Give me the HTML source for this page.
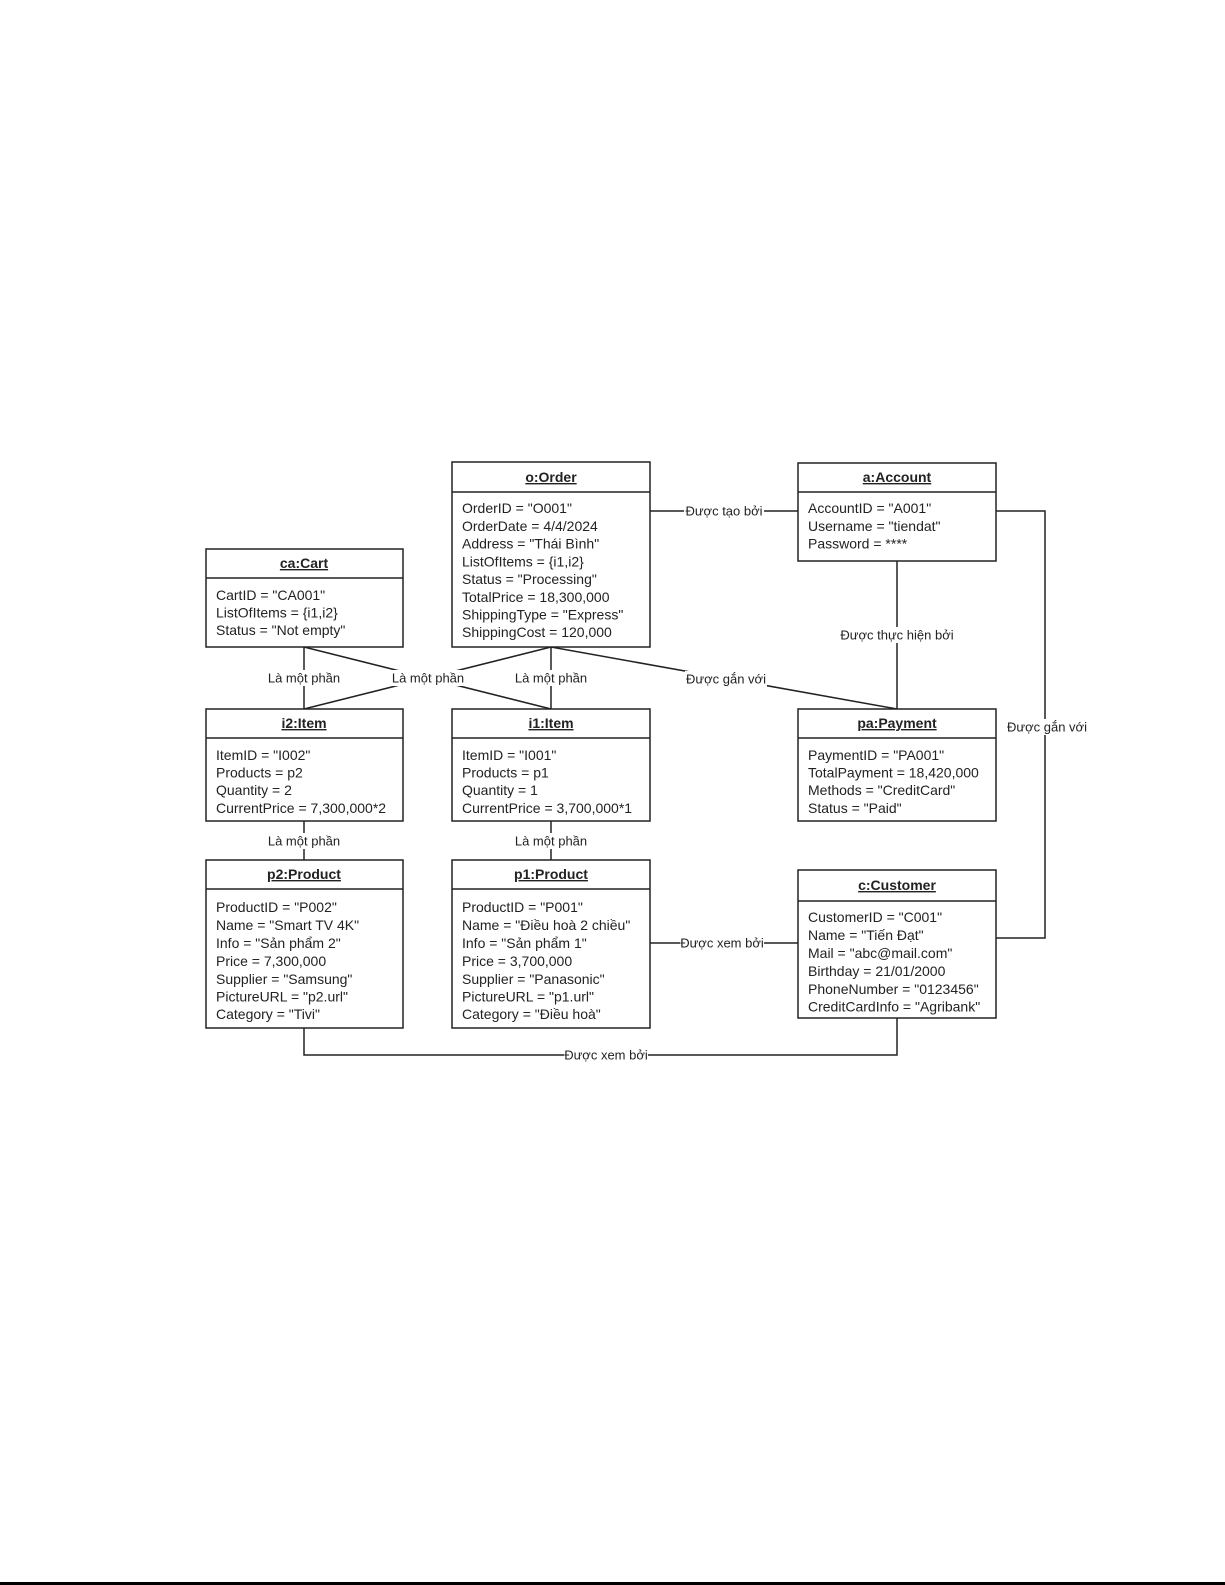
<!DOCTYPE html>
<html><head><meta charset="utf-8"><style>
html,body{margin:0;padding:0;background:#fff}
svg{display:block}
.t{font-family:"Liberation Sans",Arial,sans-serif;font-size:14px;fill:#222}
.h{font-weight:bold;text-decoration:underline;text-anchor:middle}
.l{font-family:"Liberation Sans",Arial,sans-serif;font-size:13px;fill:#222;text-anchor:middle;dominant-baseline:central}
</style></head><body>
<svg width="1225" height="1585" viewBox="0 0 1225 1585" xmlns="http://www.w3.org/2000/svg">
<rect width="1225" height="1585" fill="#fff"/>
<g stroke="#222" stroke-width="1.5" fill="none">
<!-- connectors -->
<line x1="650" y1="511" x2="798" y2="511"/>
<line x1="897" y1="561" x2="897" y2="709"/>
<polyline points="996,511 1045,511 1045,938 996,938"/>
<line x1="551" y1="647" x2="897" y2="709"/>
<line x1="551" y1="647" x2="551" y2="709"/>
<line x1="551" y1="647" x2="304" y2="709"/>
<line x1="304" y1="647" x2="551" y2="709"/>
<line x1="304" y1="647" x2="304" y2="709"/>
<line x1="304" y1="821" x2="304" y2="860"/>
<line x1="551" y1="821" x2="551" y2="860"/>
<line x1="650" y1="943" x2="798" y2="943"/>
<polyline points="304,1028 304,1055 897,1055 897,1018"/>
</g>
<!-- labels -->
<g>
<rect x="684" y="503" width="80" height="16" fill="#fff"/><text class="l" x="724" y="511">Được tạo bởi</text>
<rect x="840" y="627" width="115" height="16" fill="#fff"/><text class="l" x="897" y="635">Được thực hiện bởi</text>
<rect x="1006" y="719" width="82" height="16" fill="#fff"/><text class="l" x="1047" y="727">Được gắn với</text>
<rect x="685" y="671" width="82" height="16" fill="#fff"/><text class="l" x="726" y="679">Được gắn với</text>
<rect x="266" y="670" width="76" height="16" fill="#fff"/><text class="l" x="304" y="678">Là một phần</text>
<rect x="390" y="670" width="76" height="16" fill="#fff"/><text class="l" x="428" y="678">Là một phần</text>
<rect x="513" y="670" width="76" height="16" fill="#fff"/><text class="l" x="551" y="678">Là một phần</text>
<rect x="266" y="833" width="76" height="16" fill="#fff"/><text class="l" x="304" y="841">Là một phần</text>
<rect x="513" y="833" width="76" height="16" fill="#fff"/><text class="l" x="551" y="841">Là một phần</text>
<rect x="680" y="935" width="84" height="16" fill="#fff"/><text class="l" x="722" y="943">Được xem bởi</text>
<rect x="564" y="1047" width="84" height="16" fill="#fff"/><text class="l" x="606" y="1055">Được xem bởi</text>
</g>
<!-- boxes -->
<g stroke="#222" stroke-width="1.5" fill="#fff">
<rect x="452" y="462" width="198" height="185"/><line x1="452" y1="492" x2="650" y2="492"/>
<rect x="798" y="463" width="198" height="98"/><line x1="798" y1="492" x2="996" y2="492"/>
<rect x="206" y="549" width="197" height="98"/><line x1="206" y1="578" x2="403" y2="578"/>
<rect x="206" y="709" width="197" height="112"/><line x1="206" y1="738" x2="403" y2="738"/>
<rect x="452" y="709" width="198" height="112"/><line x1="452" y1="738" x2="650" y2="738"/>
<rect x="798" y="709" width="198" height="112"/><line x1="798" y1="738" x2="996" y2="738"/>
<rect x="206" y="860" width="197" height="168"/><line x1="206" y1="889" x2="403" y2="889"/>
<rect x="452" y="860" width="198" height="168"/><line x1="452" y1="889" x2="650" y2="889"/>
<rect x="798" y="870" width="198" height="148"/><line x1="798" y1="901" x2="996" y2="901"/>
</g>
<g class="t">
<text class="t h" x="551" y="482">o:Order</text>
<text class="t" x="462" y="513">OrderID = "O001"</text>
<text class="t" x="462" y="531">OrderDate = 4/4/2024</text>
<text class="t" x="462" y="548.5">Address = "Thái Bình"</text>
<text class="t" x="462" y="566.5">ListOfItems = {i1,i2}</text>
<text class="t" x="462" y="584">Status = "Processing"</text>
<text class="t" x="462" y="602">TotalPrice = 18,300,000</text>
<text class="t" x="462" y="619.5">ShippingType = "Express"</text>
<text class="t" x="462" y="637">ShippingCost = 120,000</text>

<text class="t h" x="897" y="482">a:Account</text>
<text class="t" x="808" y="513">AccountID = "A001"</text>
<text class="t" x="808" y="531">Username = "tiendat"</text>
<text class="t" x="808" y="548.5">Password = ****</text>

<text class="t h" x="304" y="568">ca:Cart</text>
<text class="t" x="216" y="600">CartID = "CA001"</text>
<text class="t" x="216" y="617.5">ListOfItems = {i1,i2}</text>
<text class="t" x="216" y="635">Status = "Not empty"</text>

<text class="t h" x="304" y="728">i2:Item</text>
<text class="t" x="216" y="760">ItemID = "I002"</text>
<text class="t" x="216" y="777.5">Products = p2</text>
<text class="t" x="216" y="795">Quantity = 2</text>
<text class="t" x="216" y="813">CurrentPrice = 7,300,000*2</text>

<text class="t h" x="551" y="728">i1:Item</text>
<text class="t" x="462" y="760">ItemID = "I001"</text>
<text class="t" x="462" y="777.5">Products = p1</text>
<text class="t" x="462" y="795">Quantity = 1</text>
<text class="t" x="462" y="813">CurrentPrice = 3,700,000*1</text>

<text class="t h" x="897" y="728">pa:Payment</text>
<text class="t" x="808" y="760">PaymentID = "PA001"</text>
<text class="t" x="808" y="777.5">TotalPayment = 18,420,000</text>
<text class="t" x="808" y="795">Methods = "CreditCard"</text>
<text class="t" x="808" y="813">Status = "Paid"</text>

<text class="t h" x="304" y="879">p2:Product</text>
<text class="t" x="216" y="912">ProductID = "P002"</text>
<text class="t" x="216" y="930">Name = "Smart TV 4K"</text>
<text class="t" x="216" y="948">Info = "Sản phẩm 2"</text>
<text class="t" x="216" y="966">Price = 7,300,000</text>
<text class="t" x="216" y="984">Supplier = "Samsung"</text>
<text class="t" x="216" y="1001.5">PictureURL = "p2.url"</text>
<text class="t" x="216" y="1019">Category = "Tivi"</text>

<text class="t h" x="551" y="879">p1:Product</text>
<text class="t" x="462" y="912">ProductID = "P001"</text>
<text class="t" x="462" y="930">Name = "Điều hoà 2 chiều"</text>
<text class="t" x="462" y="948">Info = "Sản phẩm 1"</text>
<text class="t" x="462" y="966">Price = 3,700,000</text>
<text class="t" x="462" y="984">Supplier = "Panasonic"</text>
<text class="t" x="462" y="1001.5">PictureURL = "p1.url"</text>
<text class="t" x="462" y="1019">Category = "Điều hoà"</text>

<text class="t h" x="897" y="890">c:Customer</text>
<text class="t" x="808" y="922">CustomerID = "C001"</text>
<text class="t" x="808" y="940">Name = "Tiến Đạt"</text>
<text class="t" x="808" y="958">Mail = "abc@mail.com"</text>
<text class="t" x="808" y="976">Birthday = 21/01/2000</text>
<text class="t" x="808" y="994">PhoneNumber = "0123456"</text>
<text class="t" x="808" y="1011.5">CreditCardInfo = "Agribank"</text>
</g>
<rect x="0" y="1582" width="1225" height="3" fill="#000"/>
</svg>
</body></html>
